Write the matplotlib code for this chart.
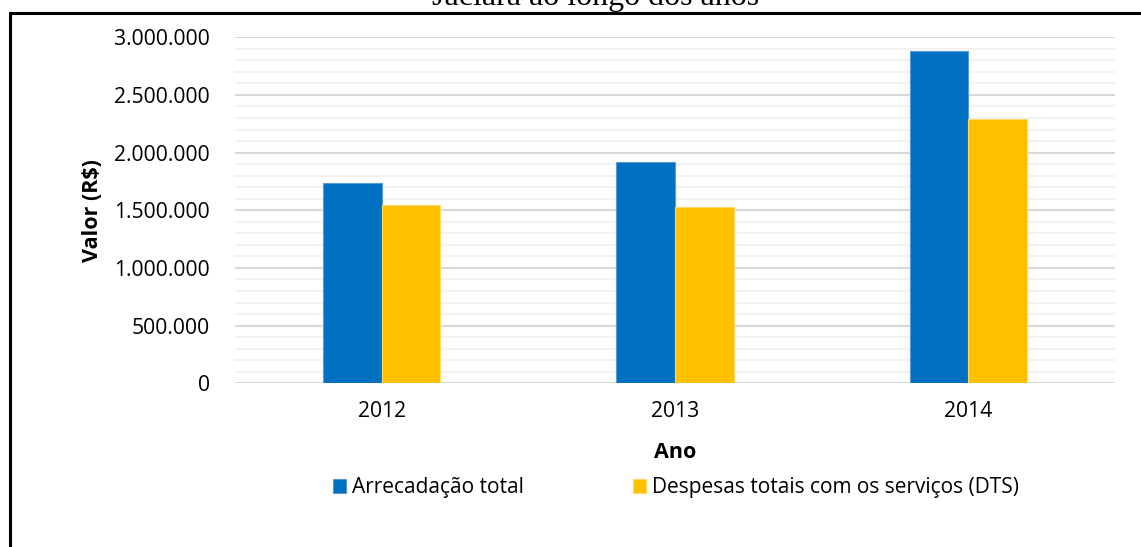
import numpy as np
import matplotlib.pyplot as plt
from matplotlib.patches import Rectangle
from matplotlib.ticker import MultipleLocator, FuncFormatter

anos = ["2012", "2013", "2014"]
arrecadacao = [1734000, 1919000, 2884000]
despesas = [1549000, 1529000, 2289000]
serie_nomes = ["Arrecadação total", "Despesas totais com os serviços (DTS)"]
azul = "#0070C0"
amarelo = "#FFC000"

plt.rcParams['font.family'] = ['Open Sans', 'DejaVu Sans']

fig = plt.figure(figsize=(11.41, 5.47), dpi=100)
ax = fig.add_axes([235/1141, 1-383.3/547, 880/1141, 346/547])

x = np.arange(len(anos))
w = 0.2
b1 = ax.bar(x - w/2, arrecadacao, w, color=azul, edgecolor="#5B9BD5", linewidth=0.8, zorder=3)
b2 = ax.bar(x + w/2, despesas, w, color=amarelo, edgecolor="#FFD966", linewidth=0.8, zorder=3)

ax.set_xlim(-0.5, 2.5)
ax.set_ylim(0, 3000000)
ax.yaxis.set_major_locator(MultipleLocator(500000))
ax.yaxis.set_minor_locator(MultipleLocator(100000))
ax.yaxis.set_major_formatter(FuncFormatter(lambda v, p: f"{int(v):,}".replace(",", ".")))
ax.set_xticks(x)
ax.set_xticklabels(anos)
ax.grid(which="major", axis="y", color="#D9D9D9", linewidth=1.5, zorder=0)
ax.grid(which="minor", axis="y", color="#F2F2F2", linewidth=1.5, zorder=0)
for s in ax.spines.values():
    s.set_visible(False)
ax.tick_params(axis="both", which="both", length=0, labelsize=15.2, colors="#000000")
ax.tick_params(axis="y", pad=18)
ax.tick_params(axis="x", pad=13)

ax.set_ylabel("Valor (R$)", fontsize=15.5, fontweight="bold")
ax.yaxis.set_label_coords(-0.15, 0.5)
ax.set_xlabel("Ano", fontsize=15.5, fontweight="bold")
ax.xaxis.set_label_coords(0.5, -0.17)

fig.legend([b1, b2], serie_nomes, loc="center", bbox_to_anchor=(676/1141, 1-488/547),
           ncol=2, frameon=False, fontsize=15, handlelength=0.62, handleheight=0.62,
           handletextpad=0.3, columnspacing=5.2, borderaxespad=0)

fig.text(596/1141, 1-5/547, "Jaciara ao longo dos anos", family="Liberation Serif",
         fontsize=23, ha="center", va="baseline")

fig.patches.append(Rectangle((9.5/1141, -0.1), 1.2, 1-12.5/547+0.1, transform=fig.transFigure,
                             fill=False, edgecolor="black", linewidth=2.2))

fig.savefig("out.png", dpi=100)
